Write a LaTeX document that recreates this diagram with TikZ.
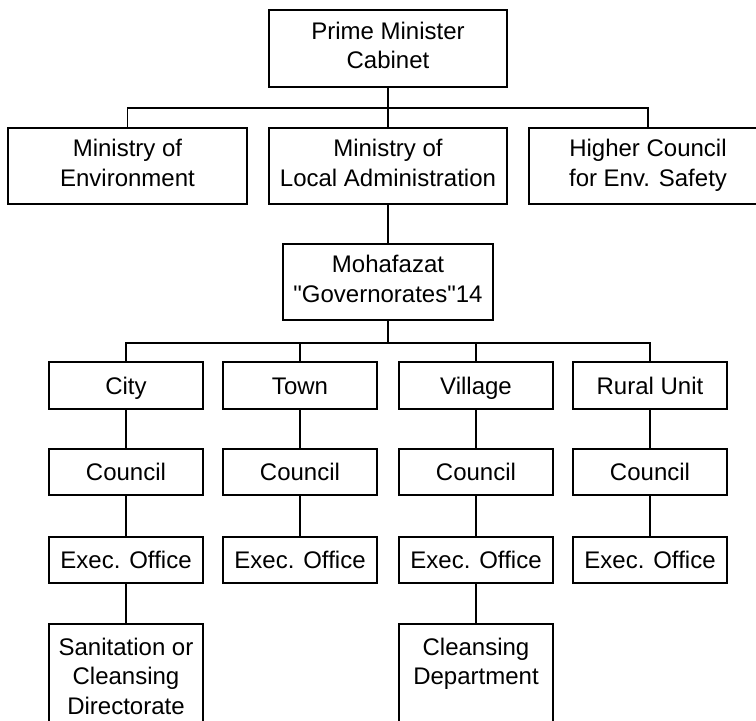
\documentclass[tikz,border=0pt]{standalone}
\usepackage{fontspec}
\setmainfont{Liberation Sans}
\begin{document}
\begin{tikzpicture}[x=1pt,y=-1pt,line width=1.6pt,
    unit/.style={draw,inner sep=0pt,align=center,minimum width=#1,
        font=\fontsize{24}{29.5}\selectfont,
        execute at begin node=\rule{0pt}{23.2pt},
        execute at end node=\rule[-6pt]{0pt}{6pt}},
    unit/.default=154,
    tall/.style={unit=238,minimum height=76},
    small/.style={unit,minimum height=46}]
    \useasboundingbox (0,0) rectangle (756,721);
    \node[tall,minimum height=77] (pm) at (388,48.5) {Prime Minister\\Cabinet};
    \node[tall,minimum width=239] (env) at (127.5,166) {Ministry of\\Environment};
    \node[tall] (la) at (388,166) {Ministry of\\Local Administration};
    \node[tall] (hc) at (648,166) {Higher Council\\for Env. Safety};
    \node[tall,minimum width=210] (moh) at (388,282)
        {Mohafazat\\\textquotedbl Governorates\textquotedbl 14};
    \node[small,minimum height=47] (city) at (126,385.5) {City};
    \node[small,minimum height=47] (town) at (300,385.5) {Town};
    \node[small,minimum height=47] (village) at (476,385.5) {Village};
    \node[small,minimum height=47] (rural) at (650,385.5) {Rural Unit};
    \node[small] (citycouncil) at (126,472) {Council};
    \node[small] (towncouncil) at (300,472) {Council};
    \node[small] (villagecouncil) at (476,472) {Council};
    \node[small] (ruralcouncil) at (650,472) {Council};
    \node[small] (cityexec) at (126,560) {Exec. Office};
    \node[small] (townexec) at (300,560) {Exec. Office};
    \node[small] (villageexec) at (476,560) {Exec. Office};
    \node[small] (ruralexec) at (650,560) {Exec. Office};
    \node[unit,minimum height=110,anchor=north] (sanitation) at (126,623)
        {Sanitation or\\Cleansing\\Directorate};
    \node[unit,minimum height=110,anchor=north] (cleansing) at (476,623)
        {Cleansing\\Department\\\mbox{}};
    \coordinate (bus1) at (388,108);
    \coordinate (bus2) at (388,343);
    \draw (pm) -- (la);
    \draw (env.north) |- (bus1) -| (hc.north);
    \draw (la) -- (moh);
    \draw (moh) -- (bus2);
    \draw (city.north) |- (bus2) -| (rural.north);
    \draw (town.north) -- (town.north |- bus2);
    \draw (village.north) -- (village.north |- bus2);
    \foreach \col in {city,town,village,rural}
        \draw (\col) -- (\col council) (\col council) -- (\col exec);
    \draw (cityexec) -- (sanitation);
    \draw (villageexec) -- (cleansing);
\end{tikzpicture}
\end{document}
